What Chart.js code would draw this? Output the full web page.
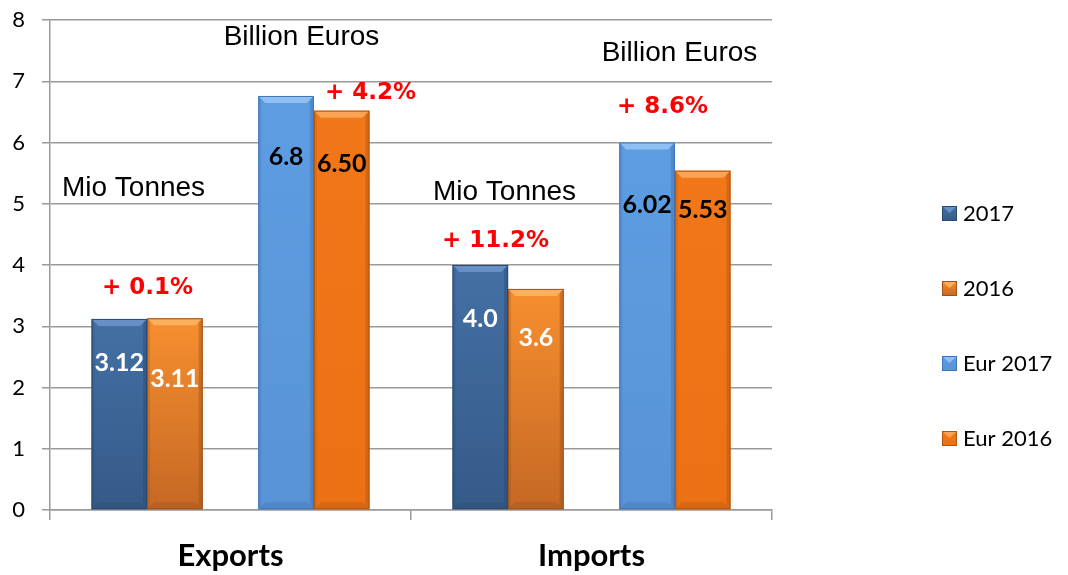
<!DOCTYPE html>
<html>
<head>
<meta charset="utf-8">
<script src="https://cdn.jsdelivr.net/npm/chart.js@4.4.1/dist/chart.umd.min.js"></script>
<style>
  html, body { margin: 0; padding: 0; background: #fff; }
  #wrap { width: 1068px; height: 575px; }
</style>
</head>
<body>
<div id="wrap"><canvas id="chart"></canvas></div>
<script>
// Data
const categories = ['Exports', 'Imports'];
const seriesNames = ['2017', '2016', 'Eur 2017', 'Eur 2016'];
const tonnes2017 = [3.12, 4.0];
const tonnes2016 = [3.13, 3.61];
const euros2017 = [6.76, 6.0];
const euros2016 = [6.52, 5.54];
// labels printed on the bars
const labels2017 = ['3.12', '4.0'];
const labels2016 = ['3.11', '3.6'];
const labelsEur2017 = ['6.8', '6.02'];
const labelsEur2016 = ['6.50', '5.53'];
const yMin = 0, yMax = 8, yStep = 1;
// texts written in the plot
const unitNotes = ['Mio Tonnes', 'Billion Euros', 'Mio Tonnes', 'Billion Euros'];
const changeNotes = ['+ 0.1%', '+ 4.2%', '+ 11.2%', '+ 8.6%'];

// styles: top colour, bottom colour, bevel light, edge dark
const styles = [
    { top: '#4470a4', bottom: '#355a88', light: '#6690c6', dark: '#2b4a70' },
    { top: '#f78f2f', bottom: '#c56824', light: '#fbb060', dark: '#9e521a' },
    null,
    { top: '#5e9de2', bottom: '#5893d6', light: '#90c0f2', dark: '#3f74b4' },
    { top: '#f27718', bottom: '#ec7114', light: '#f9a355', dark: '#b2560f' }
];

function barFill(idx) {
    return function (ctx) {
        const s = styles[idx];
        const chart = ctx.chart;
        if (!chart.chartArea || ctx.parsed == null) return s.top;
        const yScale = chart.scales.y;
        const yTop = yScale.getPixelForValue(ctx.parsed.y);
        const yBot = yScale.getPixelForValue(0);
        const g = chart.ctx.createLinearGradient(0, yTop, 0, yBot);
        g.addColorStop(0, s.top);
        g.addColorStop(1, s.bottom);
        return g;
    };
}

const valueLabels = [labels2017, labels2016, null, labelsEur2017, labelsEur2016];
const labelColors = ['#ffffff', '#ffffff', null, '#000000', '#000000'];
// label centre, px below the bar top, per dataset per category
const labelOffsets = [[44, 54], [61, 49], null, [61, 62], [53, 39]];

// bevel on the bars
const bevelPlugin = {
    id: 'bevel',
    afterDatasetsDraw(chart) {
        const c = chart.ctx;
        chart.data.datasets.forEach((ds, i) => {
            const s = styles[i];
            if (!s) return;
            chart.getDatasetMeta(i).data.forEach(bar => {
                const w = bar.width, l = bar.x - w / 2, r = bar.x + w / 2;
                const t = bar.y, b = bar.base, e = 7;
                c.save();
                // top
                c.fillStyle = s.light;
                c.beginPath();
                c.moveTo(l, t); c.lineTo(r, t); c.lineTo(r - e, t + e); c.lineTo(l + e, t + e);
                c.closePath(); c.fill();
                // right edge
                c.globalAlpha = 0.45;
                c.fillStyle = s.dark;
                c.beginPath();
                c.moveTo(r, t); c.lineTo(r, b); c.lineTo(r - 4, b - 4); c.lineTo(r - 4, t + 4);
                c.closePath(); c.fill();
                // left edge
                c.globalAlpha = 0.25;
                c.beginPath();
                c.moveTo(l, t); c.lineTo(l, b); c.lineTo(l + 3, b - 3); c.lineTo(l + 3, t + 3);
                c.closePath(); c.fill();
                // bottom
                c.globalAlpha = 0.35;
                c.beginPath();
                c.moveTo(l, b); c.lineTo(r, b); c.lineTo(r - e, b - e); c.lineTo(l + e, b - e);
                c.closePath(); c.fill();
                c.globalAlpha = 1;
                c.strokeStyle = s.dark;
                c.lineWidth = 1;
                c.strokeRect(l + 0.5, t + 0.5, w - 1, b - t - 1);
                c.restore();
            });
        });
    }
};

// value labels, notes and the legend
const textPlugin = {
    id: 'texts',
    afterDraw(chart) {
        const c = chart.ctx;
        const x = chart.scales.x, y = chart.scales.y;
        c.save();
        c.textAlign = 'center';
        c.textBaseline = 'middle';

        // values on bars
        c.font = 'bold 25px Lato';
        chart.data.datasets.forEach((ds, i) => {
            if (!valueLabels[i]) return;
            chart.getDatasetMeta(i).data.forEach((bar, j) => {
                c.fillStyle = labelColors[i];
                c.fillText(valueLabels[i][j], bar.x, bar.y + labelOffsets[i][j]);
            });
        });

        // unit notes: [category, dx, y value]
        const unitPos = [[0, -97, 5.26], [0, 71, 7.71], [1, -87, 5.19], [1, 88, 7.46]];
        c.font = '28px "Liberation Sans"';
        c.fillStyle = '#000000';
        unitNotes.forEach((t, k) => {
            const p = unitPos[k];
            c.fillText(t, x.getPixelForValue(p[0]) + p[1], y.getPixelForValue(p[2]));
        });

        // change notes
        const changePos = [[0, -83, 3.62], [0, 140, 6.81], [1, -96, 4.39], [1, 71, 6.58]];
        c.font = 'bold 23px "DejaVu Sans"';
        c.fillStyle = '#ff0000';
        changeNotes.forEach((t, k) => {
            const p = changePos[k];
            c.fillText(t, x.getPixelForValue(p[0]) + p[1], y.getPixelForValue(p[2]));
        });

        // legend
        c.textAlign = 'left';
        c.font = '22px Lato';
        let ly = 213;
        const legendSets = [0, 1, 3, 4];
        legendSets.forEach((i, k) => {
            const s = styles[i];
            const bx = 942, by = ly - 7, bs = 15;
            const g = c.createLinearGradient(0, by, 0, by + bs);
            g.addColorStop(0, s.top);
            g.addColorStop(1, s.bottom);
            c.fillStyle = g;
            c.fillRect(bx, by, bs, bs);
            c.fillStyle = s.light;
            c.beginPath();
            c.moveTo(bx, by); c.lineTo(bx + bs, by); c.lineTo(bx + bs / 2, by + 7);
            c.closePath(); c.fill();
            c.strokeStyle = s.dark;
            c.strokeRect(bx + 0.5, by + 0.5, bs - 1, bs - 1);
            c.fillStyle = '#000000';
            c.fillText(seriesNames[k], 963, ly + 1);
            ly += 75;
        });
        c.restore();
    }
};

const datasets = [
    { label: seriesNames[0], data: tonnes2017, backgroundColor: barFill(0) },
    { label: seriesNames[1], data: tonnes2016, backgroundColor: barFill(1) },
    { label: '', data: [null, null], backgroundColor: 'rgba(0,0,0,0)' },
    { label: seriesNames[2], data: euros2017, backgroundColor: barFill(3) },
    { label: seriesNames[3], data: euros2016, backgroundColor: barFill(4) }
];

new Chart(document.getElementById('chart'), {
    type: 'bar',
    data: { labels: categories, datasets: datasets },
    plugins: [bevelPlugin, textPlugin],
    options: {
        responsive: true,
        maintainAspectRatio: false,
        animation: false,
        datasets: { bar: { barPercentage: 1.0, categoryPercentage: 0.77, borderWidth: 0 } },
        layout: { padding: { top: 0, right: 296, bottom: 0, left: 0 } },
        plugins: { legend: { display: false }, tooltip: { enabled: false } },
        scales: {
            x: {
                offset: true,
                grid: { offset: true, drawOnChartArea: false, color: '#9a9a9a', tickLength: 10, lineWidth: 1.5 },
                border: { color: '#9a9a9a', width: 1.5 },
                ticks: { color: '#000', font: { family: 'Lato', size: 31, weight: 'bold' }, padding: 17 },
                afterFit(scale) { scale.height = 65; }
            },
            y: {
                min: yMin, max: yMax,
                grid: { color: '#9a9a9a', tickLength: 8, lineWidth: 1.5 },
                border: { color: '#9a9a9a', width: 1.5 },
                ticks: { stepSize: yStep, color: '#000', font: { family: 'Lato', size: 22 }, padding: 17 },
                afterFit(scale) { scale.width = 50; scale.paddingTop = 20; }
            }
        }
    }
});
</script>
</body>
</html>
